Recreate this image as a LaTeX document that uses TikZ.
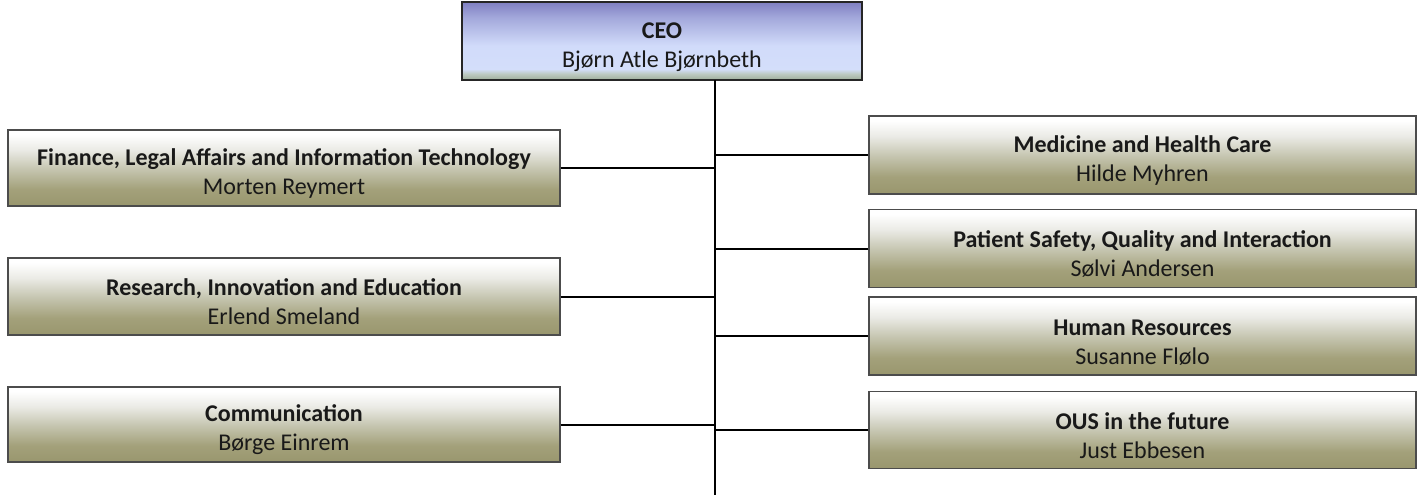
\documentclass[tikz,border=0pt]{standalone}
\usepackage{fontspec}
\setmainfont{Carlito}
% visible range of a declared shading is 25bp (bottom) to 75bp (top)
\pgfdeclareverticalshading{olive}{100bp}{rgb(0bp)=(0.60,0.59,0.43); rgb(25bp)=(0.60,0.59,0.43); rgb(36bp)=(0.64,0.63,0.48); rgb(50bp)=(0.78,0.78,0.70); rgb(62bp)=(0.92,0.92,0.90); rgb(72bp)=(1,1,1); rgb(100bp)=(1,1,1)}
\pgfdeclareverticalshading{ceoshade}{100bp}{rgb(0bp)=(0.62,0.68,0.60); rgb(25bp)=(0.62,0.68,0.60); rgb(29bp)=(0.74,0.79,0.76); rgb(32bp)=(0.83,0.87,0.98); rgb(47bp)=(0.82,0.86,0.98); rgb(65bp)=(0.64,0.66,0.86); rgb(75bp)=(0.50,0.50,0.76); rgb(100bp)=(0.50,0.50,0.76)}
\newcommand{\hdstrut}{\rule{0pt}{28pt}}
\tikzset{
  unit/.style={draw=black!70, line width=1.4pt, shading=olive, align=center, inner sep=0pt, text=black!90, font=\fontsize{24}{29}\selectfont},
  ceobox/.style={draw=black!85, line width=2.5pt, shading=ceoshade, align=center, inner sep=0pt, text=black!90, font=\fontsize{24}{29}\selectfont},
  link/.style={line width=2pt, black}
}
\begin{document}
\begin{tikzpicture}[x=1pt,y=-1pt]
\useasboundingbox (0,0) rectangle (1419,495);
\node[ceobox, minimum width=400, minimum height=78] (ceo) at (662,41) {\hdstrut\textbf{CEO}\\Bjørn Atle Bjørnbeth};
\coordinate (top) at (715,80);
\coordinate (bot) at (715,495);
\node[unit, minimum width=552, minimum height=76] (fin) at (284,168) {\hdstrut\textbf{Finance, Legal Affairs and Information Technology}\\Morten Reymert};
\node[unit, minimum width=552, minimum height=77] (res) at (284,296.5) {\hdstrut\textbf{Research, Innovation and Education}\\Erlend Smeland};
\node[unit, minimum width=552, minimum height=75] (com) at (284,424.5) {\hdstrut\textbf{Communication}\\Børge Einrem};
\node[unit, minimum width=547, minimum height=78] (med) at (1142.5,155) {\hdstrut\textbf{Medicine and Health Care}\\Hilde Myhren};
\node[unit, minimum width=547, minimum height=78] (pat) at (1142.5,248.5) {\hdstrut\textbf{Patient Safety, Quality and Interaction}\\Sølvi Andersen};
\node[unit, minimum width=547, minimum height=78] (hr) at (1142.5,336) {\hdstrut\textbf{Human Resources}\\Susanne Flølo};
\node[unit, minimum width=547, minimum height=77] (ous) at (1142.5,430) {\hdstrut\textbf{OUS in the future}\\Just Ebbesen};
\draw[link] (top) -- (bot);
\foreach \n in {fin,res,com,med,pat,hr,ous}{
  \draw[link] (\n) -- (\n -| top);
}
\end{tikzpicture}
\end{document}
